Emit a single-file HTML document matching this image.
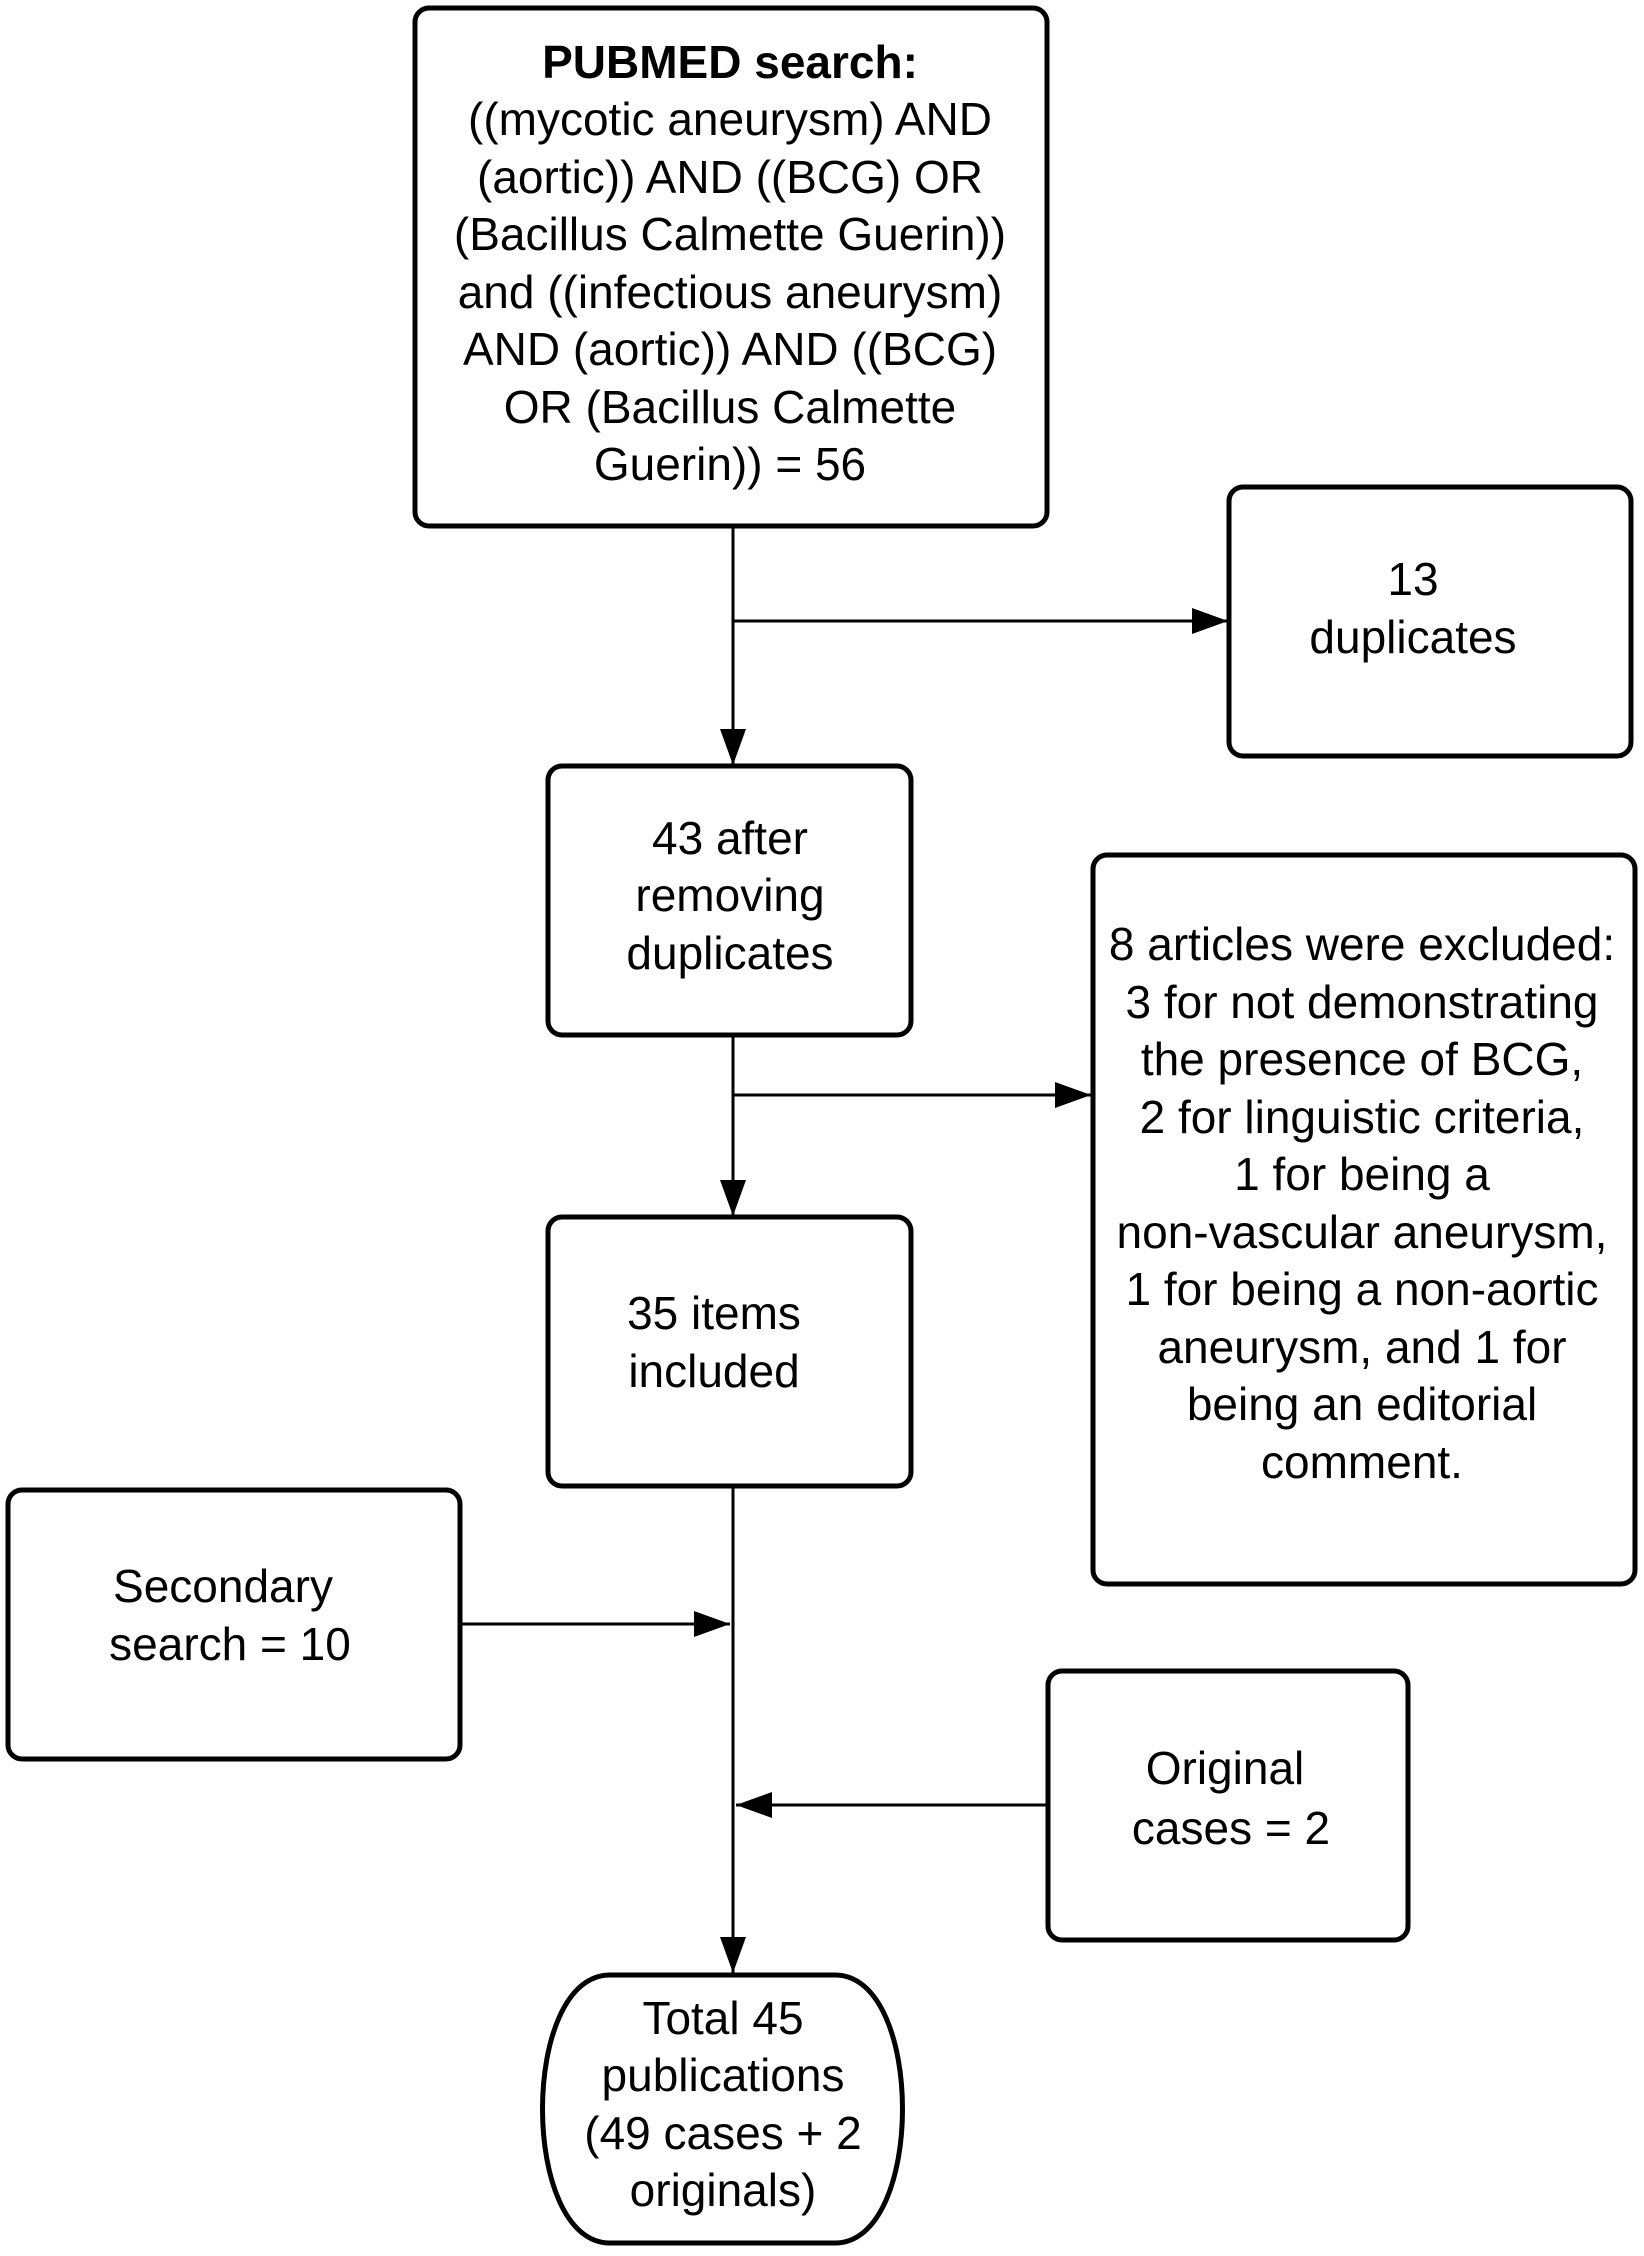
<!DOCTYPE html>
<html><head><meta charset="utf-8"><style>
html,body{margin:0;padding:0;background:#fff;}
svg{display:block;}
text{font-family:"Liberation Sans",sans-serif;font-size:46px;fill:#000;text-anchor:middle;dominant-baseline:central;}
</style></head><body>
<svg width="1644" height="2256" viewBox="0 0 1644 2256" xmlns="http://www.w3.org/2000/svg">
<defs>
<marker id="b" markerWidth="36" markerHeight="26" refX="36" refY="13" orient="auto" markerUnits="userSpaceOnUse" viewBox="0 0 36 26"><path d="M0,0 L36,13 L0,26 z" fill="#000"/></marker></defs>
<g fill="none" stroke="#000" stroke-width="5">
<rect x="415" y="8" width="632" height="518" rx="14"/>
<rect x="1229" y="487" width="402" height="269" rx="14"/>
<rect x="548" y="766" width="363" height="269" rx="14"/>
<rect x="1093" y="855" width="542" height="729" rx="14"/>
<rect x="548" y="1217" width="363" height="269" rx="14"/>
<rect x="8" y="1490" width="452" height="269" rx="14"/>
<rect x="1048" y="1671" width="360" height="269" rx="14"/>
<path d="M610,1975 L835,1975 C925,1975 925,2243 835,2243 L610,2243 C520,2243 520,1975 610,1975 Z"/>
</g>
<g stroke="#000" stroke-width="3" fill="none">
<line x1="733" y1="526" x2="733" y2="765" marker-end="url(#b)"/>
<line x1="733" y1="621" x2="1228" y2="621" marker-end="url(#b)"/>
<line x1="733" y1="1035" x2="733" y2="1216" marker-end="url(#b)"/>
<line x1="733" y1="1095" x2="1091" y2="1095" marker-end="url(#b)"/>
<line x1="733" y1="1486" x2="733" y2="1973" marker-end="url(#b)"/>
<line x1="460" y1="1624" x2="730" y2="1624" marker-end="url(#b)"/>
<line x1="1048" y1="1805" x2="736" y2="1805" marker-end="url(#b)"/>
</g>
<text x="730" y="62" font-weight="bold">PUBMED search:</text>
<text x="730" y="119">((mycotic aneurysm) AND</text>
<text x="730" y="177">(aortic)) AND ((BCG) OR</text>
<text x="730" y="234">(Bacillus Calmette Guerin))</text>
<text x="730" y="292">and ((infectious aneurysm)</text>
<text x="730" y="349">AND (aortic)) AND ((BCG)</text>
<text x="730" y="407">OR (Bacillus Calmette</text>
<text x="730" y="464">Guerin)) = 56</text>
<text x="1413" y="579">13</text>
<text x="1413" y="637">duplicates</text>
<text x="730" y="838">43 after</text>
<text x="730" y="895">removing</text>
<text x="730" y="953">duplicates</text>
<text x="1362" y="944">8 articles were excluded:</text>
<text x="1362" y="1002">3 for not demonstrating</text>
<text x="1362" y="1059">the presence of BCG,</text>
<text x="1362" y="1117">2 for linguistic criteria,</text>
<text x="1362" y="1174">1 for being a</text>
<text x="1362" y="1232">non-vascular aneurysm,</text>
<text x="1362" y="1289">1 for being a non-aortic</text>
<text x="1362" y="1347">aneurysm, and 1 for</text>
<text x="1362" y="1404">being an editorial</text>
<text x="1362" y="1462">comment.</text>
<text x="714" y="1313">35 items</text>
<text x="714" y="1371">included</text>
<text x="223" y="1586">Secondary</text>
<text x="230" y="1644">search = 10</text>
<text x="1225" y="1768">Original</text>
<text x="1231" y="1828">cases = 2</text>
<text x="723" y="2018">Total 45</text>
<text x="723" y="2075">publications</text>
<text x="723" y="2133">(49 cases + 2</text>
<text x="723" y="2190">originals)</text>
</svg>
</body></html>
